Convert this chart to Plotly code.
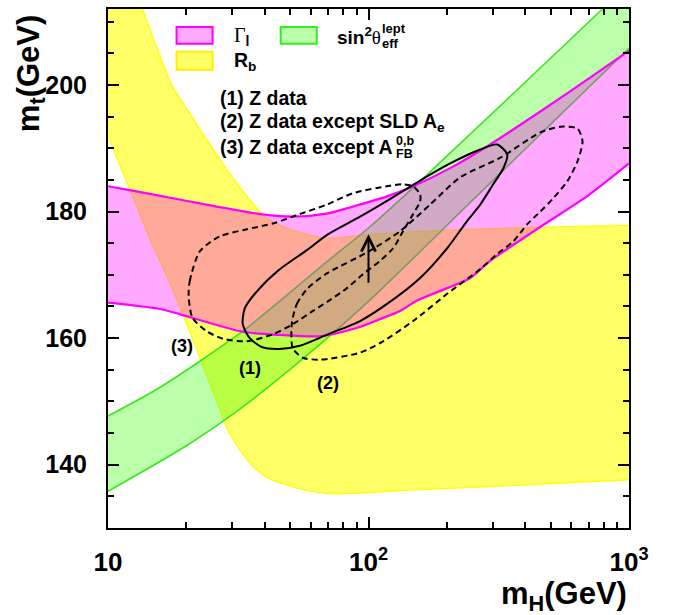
import math
import plotly.graph_objects as go

# ---------------- data (mH in GeV, mt in GeV) ----------------
# R_b band (yellow)
rb_upper_mh = [10, 13.58, 15.37, 17.71, 20.6, 24.6, 29.3, 35.0, 40.0, 49.9, 69.8, 101, 246, 711, 1000]
rb_upper_mt = [227, 212.0, 206.0, 199.7, 195.5, 190.6, 186.0, 181.9, 179.2, 177.2, 175.8, 176.4, 177.2, 177.7, 177.8]
rb_lower_mh = [10, 12.1, 14.44, 16.8, 18.8, 22.5, 26.1, 29.3, 35.0, 40.7, 54.5, 73.0, 150, 400, 1000]
rb_lower_mt = [191.9, 183.5, 175.8, 169.8, 165.1, 156.9, 150.1, 144.9, 140.3, 138.0, 136.2, 135.4, 136.0, 136.8, 137.6]

# sin^2 theta_eff^lept band (green)
sw_upper_mh = [10, 15.8, 32.9, 69.8, 100, 158, 791, 1000]
sw_upper_mt = [147.7, 152.2, 161.1, 172.2, 177.4, 184.8, 212.0, 216.0]
sw_lower_mh = [10, 20, 31.6, 56.2, 100, 251, 501, 1000]
sw_lower_mt = [135.8, 143.0, 148.6, 156.8, 165.8, 181.8, 193.8, 205.8]

# Gamma_l band (magenta)
gl_upper_mh = [10, 12.4, 18.8, 38.3, 52, 69.8, 87.2, 117.8, 148.4, 211, 293, 456.6, 700, 1000]
gl_upper_mt = [184.0, 183.3, 181.9, 179.6, 179.2, 179.7, 180.8, 182.4, 184.0, 187.1, 190.6, 195.8, 201.0, 205.4]
gl_lower_mh = [10, 15.8, 18.8, 32.9, 45.4, 65.1, 90, 110.7, 132.2, 153, 200.4, 246, 293, 450, 700, 1000]
gl_lower_mt = [165.6, 164.6, 163.8, 161.0, 160.5, 160.3, 161.6, 163.0, 164.3, 165.9, 167.9, 169.5, 172.2, 177.4, 182.6, 187.6]

# Contour (1): Z data (solid)
c1_mh = [32.9, 33.5, 37.3, 45.4, 58.0, 69.8, 92.8, 117.8, 157.8, 205.8, 268.5, 312, 341, 329, 301,
         268.5, 239, 200.4, 157.8, 117.8, 92.8, 69.8, 54.5, 45.4, 38.9, 35.0, 32.9]
c1_mt = [162.2, 164.7, 167.4, 170.8, 173.9, 176.4, 179.2, 181.7, 184.9, 187.6, 189.8, 190.6, 189.0, 186.8, 184.3,
         181.1, 178.5, 174.2, 169.5, 165.4, 162.7, 160.6, 158.8, 158.3, 158.6, 160.0, 162.2]

# Contour (2): Z data except SLD A_e (dashed)
c2_mh = [50.8, 53.1, 58.5, 69.8, 100.4, 132.2, 172.4, 224.9, 320.5, 456.6, 545, 634, 663, 634, 580, 512,
         456.6, 407, 360, 312, 268.5, 200.4, 148.4, 113.7, 92.8, 65.1, 56.0, 51.2, 50.8]
c2_mt = [162.4, 165.4, 167.9, 170.3, 173.7, 176.9, 181.1, 185.4, 188.5, 192.5, 193.4, 193.1, 191.1, 187.9, 184.8, 182.1,
         180.0, 178.0, 175.3, 173.3, 170.9, 167.0, 162.7, 159.5, 157.7, 156.6, 156.9, 158.4, 162.4]

# Contour (3): Z data except A_FB^0,b (dashed)
c3_mh = [20.4, 20.6, 22.5, 26.9, 34.1, 42.9, 54.5, 69.2, 87.2, 117.8, 135.7, 148.4, 157.8, 157.8, 148.4, 135.7,
         124.3, 110.7, 95.2, 82.7, 69.8, 61.2, 51.2, 42.9, 34.1, 27.6, 23.9, 21.1, 20.4]
c3_mt = [166.6, 169.0, 173.7, 176.1, 177.2, 178.1, 179.6, 181.1, 182.9, 184.0, 184.3, 184.0, 182.7, 181.6, 179.6, 176.9,
         174.2, 172.2, 170.1, 167.9, 165.8, 164.3, 162.2, 160.6, 159.5, 159.9, 161.1, 163.2, 166.6]

# arrow (mH, mt start -> end)
arrow_mh = 100
arrow_mt = [168.5, 176.4]

# contour labels
label_text = ["(1)", "(2)", "(3)"]
label_mh = [35.0, 69.9, 19.2]
label_mt = [155.3, 152.9, 158.8]

x_major = [10, 100, 1000]
x_major_text = ["10", "10<sup>2</sup>", "10<sup>3</sup>"]
x_minor = [20, 30, 40, 50, 60, 70, 80, 90, 200, 300, 400, 500, 600, 700, 800, 900]
y_major = [140, 160, 180, 200]
y_minor = [135, 145, 150, 155, 165, 170, 175, 185, 190, 195, 205, 210]

FONT = "Liberation Sans, Arial, Helvetica, sans-serif"
SMOOTH = 0.7

fig = go.Figure()


def add_band(xu, yu, xl, yl, fillcol, linecol, lw):
    fig.add_trace(go.Scatter(x=xl, y=yl, mode="lines",
                             line=dict(color=linecol, width=lw, shape="spline", smoothing=SMOOTH),
                             hoverinfo="skip", showlegend=False))
    fig.add_trace(go.Scatter(x=xu, y=yu, mode="lines", fill="tonexty", fillcolor=fillcol,
                             line=dict(color=linecol, width=lw, shape="spline", smoothing=SMOOTH),
                             hoverinfo="skip", showlegend=False))


add_band(rb_upper_mh, rb_upper_mt, rb_lower_mh, rb_lower_mt, "rgba(255,255,0,0.6)", "#ffff00", 1.2)
add_band(sw_upper_mh, sw_upper_mt, sw_lower_mh, sw_lower_mt, "rgba(51,255,0,0.333)", "#3ce61e", 1.6)
add_band(gl_upper_mh, gl_upper_mt, gl_lower_mh, gl_lower_mt, "rgba(255,0,255,0.333)", "#ff00ff", 2.2)

for cx, cy, dash in [(c3_mh, c3_mt, "6px,4px"), (c2_mh, c2_mt, "6px,4px"), (c1_mh, c1_mt, "solid")]:
    fig.add_trace(go.Scatter(x=cx, y=cy, mode="lines",
                             line=dict(color="black", width=2, dash=dash, shape="spline", smoothing=SMOOTH),
                             hoverinfo="skip", showlegend=False))

# arrow
fig.add_annotation(x=math.log10(arrow_mh), y=arrow_mt[1], ax=math.log10(arrow_mh), ay=arrow_mt[0],
                   xref="x", yref="y", axref="x", ayref="y", text="", showarrow=True,
                   arrowhead=5, arrowsize=1.4, arrowwidth=2, arrowcolor="black")

for t, xm, ym in zip(label_text, label_mh, label_mt):
    fig.add_annotation(x=math.log10(xm), y=ym, xref="x", yref="y", text="<b>%s</b>" % t, showarrow=False,
                       font=dict(family=FONT, size=18, color="black"), xanchor="center", yanchor="middle")

# ---------- legend (drawn by hand) ----------
X0, W, Y0, H = 108.5, 520.5, 528.0, 521.0


def px(x):
    return (x - X0) / W


def py(y):
    return (Y0 - y) / H


boxes = [(177, 25, 213, 42, "#ffaaff", "#ff00ff"),
         (281, 25, 317, 42, "#bbffaa", "#33ee22"),
         (177, 50, 213, 68, "#ffff66", "#ffee00")]
for x0, y0, x1, y1, fc, lc in boxes:
    fig.add_shape(type="rect", xref="paper", yref="paper", x0=px(x0), x1=px(x1), y0=py(y1), y1=py(y0),
                  fillcolor=fc, line=dict(color=lc, width=2), layer="above")

legend_texts = [
    (232, 35, "<span style='font-family:Liberation Serif'>Γ</span><sub><b>l</b></sub>", 20),
    (232, 60, "<b>R<sub>b</sub></b>", 19.5),
    (335, 34, "<b>sin<sup>2</sup></b><span style='font-family:Liberation Serif'>θ</span>", 19),
    (380, 27, "<b>lept</b>", 13),
    (380, 42, "<b>eff</b>", 13),
    (218, 96, "<b>(1) Z data</b>", 19.5),
    (218, 121, "<b>(2) Z data except SLD A<sub>e</sub></b>", 19.5),
    (218, 146, "<b>(3) Z data except A</b>", 19.5),
    (394, 139.5, "<b>0,b</b>", 12.5),
    (394, 153, "<b>FB</b>", 12.5),
]
for x, y, t, s in legend_texts:
    fig.add_annotation(x=px(x), y=py(y), xref="paper", yref="paper", text=t, showarrow=False,
                       xanchor="left", yanchor="middle", font=dict(family=FONT, size=s, color="black"))

# axis titles
fig.add_annotation(x=px(31), y=py(71), xref="paper", yref="paper", text="<b>m<sub>t</sub>(GeV)</b>",
                   textangle=-90, showarrow=False, xanchor="center", yanchor="middle",
                   font=dict(family=FONT, size=31, color="black"))
fig.add_annotation(x=1.0, y=py(596), xref="paper", yref="paper", text="<b>m<sub>H</sub>(GeV)</b>",
                   showarrow=False, xanchor="right", yanchor="middle",
                   font=dict(family=FONT, size=31, color="black"))

fig.update_xaxes(type="log", range=[1, 3], tickmode="array", tickvals=x_major,
                 ticktext=["<b>%s</b>" % t for t in x_major_text],
                 ticks="inside", ticklen=11, tickwidth=2, tickcolor="black",
                 showline=True, linewidth=2, linecolor="black", mirror="ticks",
                 showgrid=False, zeroline=False, ticklabelstandoff=10,
                 tickfont=dict(family=FONT, size=26, color="black"),
                 minor=dict(tickmode="array", tickvals=x_minor, ticks="inside", ticklen=6,
                            tickwidth=1.5, tickcolor="black", showgrid=False))
fig.update_yaxes(range=[130, 212], tickmode="array", tickvals=y_major,
                 ticktext=["<b>%d</b>" % v for v in y_major],
                 ticks="inside", ticklen=11, tickwidth=2, tickcolor="black",
                 showline=True, linewidth=2, linecolor="black", mirror="ticks",
                 showgrid=False, zeroline=False, ticklabelstandoff=14,
                 tickfont=dict(family=FONT, size=25, color="black"),
                 minor=dict(tickmode="array", tickvals=y_minor, ticks="inside", ticklen=6,
                            tickwidth=1.5, tickcolor="black", showgrid=False))

fig.update_layout(width=678, height=615, margin=dict(l=108, r=49, t=7, b=87),
                  plot_bgcolor="white", paper_bgcolor="white", showlegend=False,
                  font=dict(family=FONT, color="black"))

fig.write_html("out.html", config={"displayModeBar": False},
               post_script="document.body.style.margin='0';")
